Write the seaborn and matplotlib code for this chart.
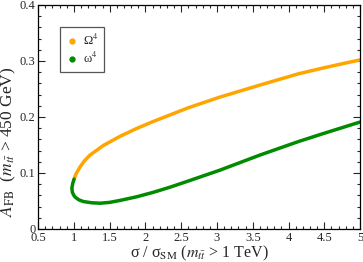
import numpy as np
import pandas as pd
import seaborn as sns
import matplotlib
matplotlib.use("Agg")
import matplotlib.pyplot as plt
from matplotlib.lines import Line2D

# upper branch (Omega^4)
sig_upper = [1.003, 1.03, 1.087, 1.15, 1.226, 1.41, 1.645, 1.878, 2.11, 2.34, 2.60, 3.04, 3.60, 4.135, 4.5, 5.0]
afb_upper = [0.089, 0.0985, 0.111, 0.122, 0.132, 0.149, 0.1655, 0.1795, 0.192, 0.2035, 0.2165, 0.2355, 0.257, 0.277, 0.288, 0.302]
# lower branch (omega^4)
sig_lower = [1.003, 0.985, 0.972, 0.978, 0.995, 1.017, 1.07, 1.133, 1.25, 1.366, 1.5, 1.645, 1.878, 2.11, 2.34, 2.60, 3.04, 3.60, 4.135, 4.5, 5.0]
afb_lower = [0.089, 0.082, 0.073, 0.066, 0.061, 0.057, 0.052, 0.049, 0.0468, 0.046, 0.0475, 0.051, 0.0575, 0.0655, 0.0745, 0.0857, 0.105, 0.132, 0.156, 0.171, 0.191]

labels = ["Ω$^4$", "ω$^4$"]
colors = ["#FFA500", "#008B00"]

df_u = pd.DataFrame({"sigma": sig_upper, "afb": afb_upper})
df_l = pd.DataFrame({"sigma": sig_lower, "afb": afb_lower})

sns.set_style("ticks")
plt.rcParams["font.family"] = ["Liberation Serif", "DejaVu Serif"]
plt.rcParams["mathtext.fontset"] = "stix"

fig = plt.figure(figsize=(3.63, 2.62), dpi=100)
ax = fig.add_axes([0.105, 0.126, 0.887, 0.855])

sns.lineplot(data=df_u, x="sigma", y="afb", sort=False, color=colors[0], lw=2.5, ax=ax, legend=False)
sns.lineplot(data=df_l, x="sigma", y="afb", sort=False, color=colors[1], lw=2.5, ax=ax, legend=False)

ax.set_xlim(0.5, 5)
ax.set_ylim(0, 0.4)
ax.set_xticks(np.arange(0.5, 5.01, 0.5))
ax.set_xticklabels(["0.5", "1", "1.5", "2", "2.5", "3", "3.5", "4", "4.5", "5"])
ax.set_yticks([0, 0.1, 0.2, 0.3, 0.4])
ax.set_yticklabels(["0", "0.1", "0.2", "0.3", "0.4"])
ax.set_xticks(np.arange(0.5, 5.01, 0.1), minor=True)
ax.set_yticks(np.arange(0, 0.401, 0.02), minor=True)
ax.tick_params(which="both", direction="in", top=True, right=True, labelsize=9, width=0.8, pad=2)
ax.tick_params(which="major", length=5)
ax.tick_params(which="minor", length=2.5)
for s in ax.spines.values():
    s.set_linewidth(0.9)
    s.set_color("black")

ax.set_xlabel(r"σ / σ$_{\rm SM}$ ($m_{t\bar{t}}$ > 1 TeV)", fontsize=11.5, labelpad=0)
ax.set_ylabel(r"$A_{\rm FB}$  ($m_{t\bar{t}}$ > 450 GeV)", fontsize=12.5)
ax.yaxis.set_label_coords(-0.062, 0.39)

handles = [Line2D([], [], ls="none", marker="o", ms=3.5, color=c) for c in colors]
leg = ax.legend(handles, labels, loc="upper left", bbox_to_anchor=(0.068, 0.90), borderaxespad=0,
                fancybox=False, framealpha=1, edgecolor="#555555", fontsize=9,
                handletextpad=0.4, handlelength=1.0, borderpad=0.45, labelspacing=0.25)
leg.get_frame().set_linewidth(0.9)

fig.savefig("out.png", dpi=100)
